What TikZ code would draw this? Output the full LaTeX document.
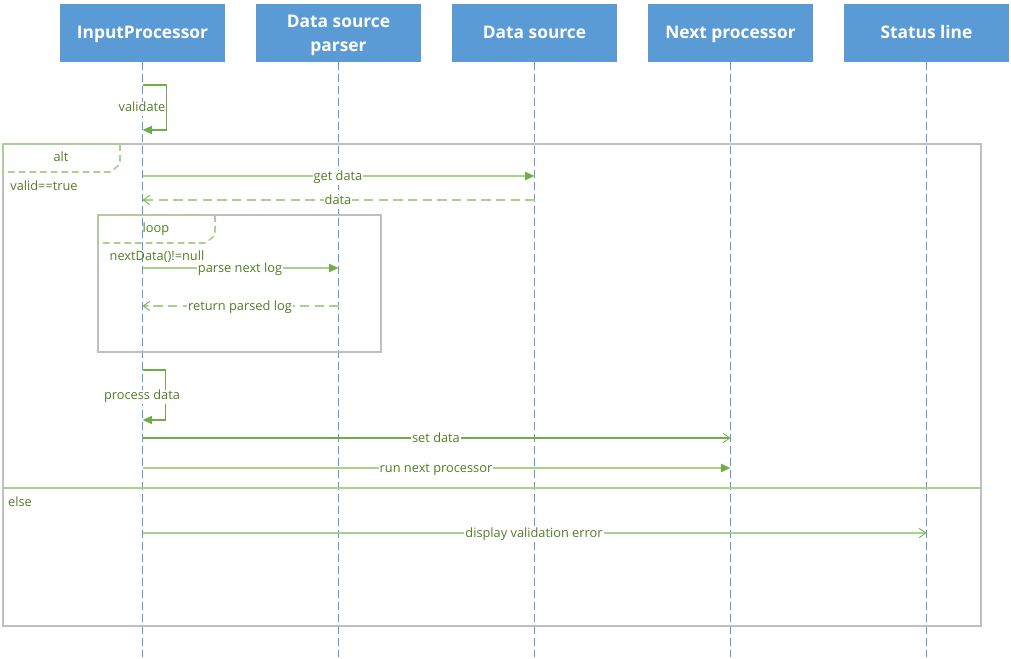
\documentclass[tikz,border=0pt]{standalone}
\usepackage{fontspec}
\setmainfont{Open Sans}
\usetikzlibrary{arrows.meta}
\definecolor{hdrblue}{HTML}{5B9BD5}
\definecolor{lgreen}{HTML}{A9D18E}
\definecolor{mgreen}{HTML}{70AD47}
\definecolor{tgreen}{HTML}{527D26}
\definecolor{fgray}{HTML}{BFBFBF}
\begin{document}
\begin{tikzpicture}[x=0.75pt,y=-0.75pt,
  hdr/.style={fill=hdrblue,text=white,font=\bfseries\fontsize{13}{17.5}\selectfont,
    minimum width=123.75pt,minimum height=43.5pt,align=center,inner sep=0pt},
  one/.style={text height=10.5pt,text depth=1.5pt},
  life/.style={draw=hdrblue,line width=0.6pt,dash pattern=on 6pt off 3pt},
  lbl/.style={font=\fontsize{9.6}{11}\selectfont,text=tgreen,fill=white,inner sep=0.8pt,
    text height=7pt,text depth=2pt,yshift=-1.2pt},
  plain/.style={font=\fontsize{9.6}{11}\selectfont,text=tgreen,inner sep=0pt},
  filledtip/.style={-{Triangle[length=7pt,width=6pt,fill=mgreen,color=mgreen]}},
  opentip/.style={-{Straight Barb[length=5pt,width=7pt,color=mgreen,line width=0.6pt]}},
  msgl/.style={draw=lgreen,line width=1.5pt},
  msgd/.style={draw=mgreen,line width=0.8pt},
  retl/.style={draw=lgreen,line width=1.5pt,dash pattern=on 7pt off 4pt},
  frame/.style={draw=fgray,line width=1pt},
  tab/.style={draw=lgreen,line width=1.2pt,dash pattern=on 5pt off 3pt}]
\useasboundingbox (0,0) rectangle (1011,659);

% headers
\node[hdr,one] (ip) at (142.5,33) {InputProcessor};
\node[hdr] (dsp) at (338.5,33) {\rule{0pt}{13pt}Data source\\parser};
\node[hdr,one] (ds) at (534.5,33) {Data source};
\node[hdr,one] (np) at (730.5,33) {Next processor};
\node[hdr,one] (sl) at (926.5,33) {Status line};

% lifeline ends
\coordinate (ipE) at (ip.south |- 0,657);
\coordinate (dspE) at (dsp.south |- 0,657);
\coordinate (dsE) at (ds.south |- 0,657);
\coordinate (npE) at (np.south |- 0,657);
\coordinate (slE) at (sl.south |- 0,657);
\draw[life] (ip.south) -- (ipE);
\draw[life] (dsp.south) -- (dspE);
\draw[life] (ds.south) -- (dsE);
\draw[life] (np.south) -- (npE);
\draw[life] (sl.south) -- (slE);

% alt frame
\draw[frame] (3,144) rectangle (981,626);
\draw[tab] (3,144) -- (120,144) -- (120,164) -- (111,172) -- (3,172) -- cycle;
\node[plain] (altL) at (61,157) {alt};
\node[plain] (cond1) at (44,186) {valid==true};
\draw[draw=lgreen,line width=2pt] (3,488) -- (981,488);
\node[plain] (elseL) at (20,502) {else};

% loop frame
\draw[frame] (98,215) rectangle (381,352);
\draw[tab] (98,215) -- (215,215) -- (215,235) -- (206,243) -- (98,243) -- cycle;
\node[plain] (loopL) at (156,229) {loop};
\node[plain] (cond2) at (157,257) {nextData()!=null};

% validate
\coordinate (v1) at (ip.south |- 0,85);
\coordinate (v2) at (ip.south |- 0,130);
\draw[msgd,filledtip] (v1) -- ++(24,0) |- (v2);
\node[lbl] (vL) at (142,107) {validate};

% get data
\coordinate (g1) at (ip.south |- 0,176);
\coordinate (g2) at (ds.south |- 0,176);
\draw[msgl,filledtip] (g1) -- (g2);
\node[lbl] (gL) at (338,176) {get data};

% data
\coordinate (d1) at (ds.south |- 0,200);
\coordinate (d2) at (ip.south |- 0,200);
\draw[retl,opentip] (d1) -- (d2);
\node[lbl] (dL) at (338,200) {data};

% parse next log
\coordinate (p1) at (ip.south |- 0,268);
\coordinate (p2) at (dsp.south |- 0,268);
\draw[msgl,filledtip] (p1) -- (p2);
\node[lbl] (pL) at (240,268) {parse next log};

% return parsed log
\coordinate (r1) at (dsp.south |- 0,306);
\coordinate (r2) at (ip.south |- 0,306);
\draw[retl,opentip] (r1) -- (r2);
\node[lbl] (rL) at (240,306) {return parsed log};

% process data
\coordinate (pd1) at (ip.south |- 0,370);
\coordinate (pd2) at (ip.south |- 0,420);
\draw[msgd,filledtip] (pd1) -- ++(23,0) |- (pd2);
\node[lbl] (pdL) at (142,395) {process data};

% set data
\coordinate (s1) at (ip.south |- 0,438);
\coordinate (s2) at (np.south |- 0,438);
\draw[msgd,opentip] (s1) -- (s2);
\node[lbl] (sL) at (436,438) {set data};

% run next processor
\coordinate (n1) at (ip.south |- 0,468);
\coordinate (n2) at (np.south |- 0,468);
\draw[msgl,filledtip] (n1) -- (n2);
\node[lbl] (nL) at (436,468) {run next processor};

% display validation error
\coordinate (e1) at (ip.south |- 0,533);
\coordinate (e2) at (sl.south |- 0,533);
\draw[msgl,opentip] (e1) -- (e2);
\node[lbl] (eL) at (534,533) {display validation error};
\end{tikzpicture}
\end{document}
